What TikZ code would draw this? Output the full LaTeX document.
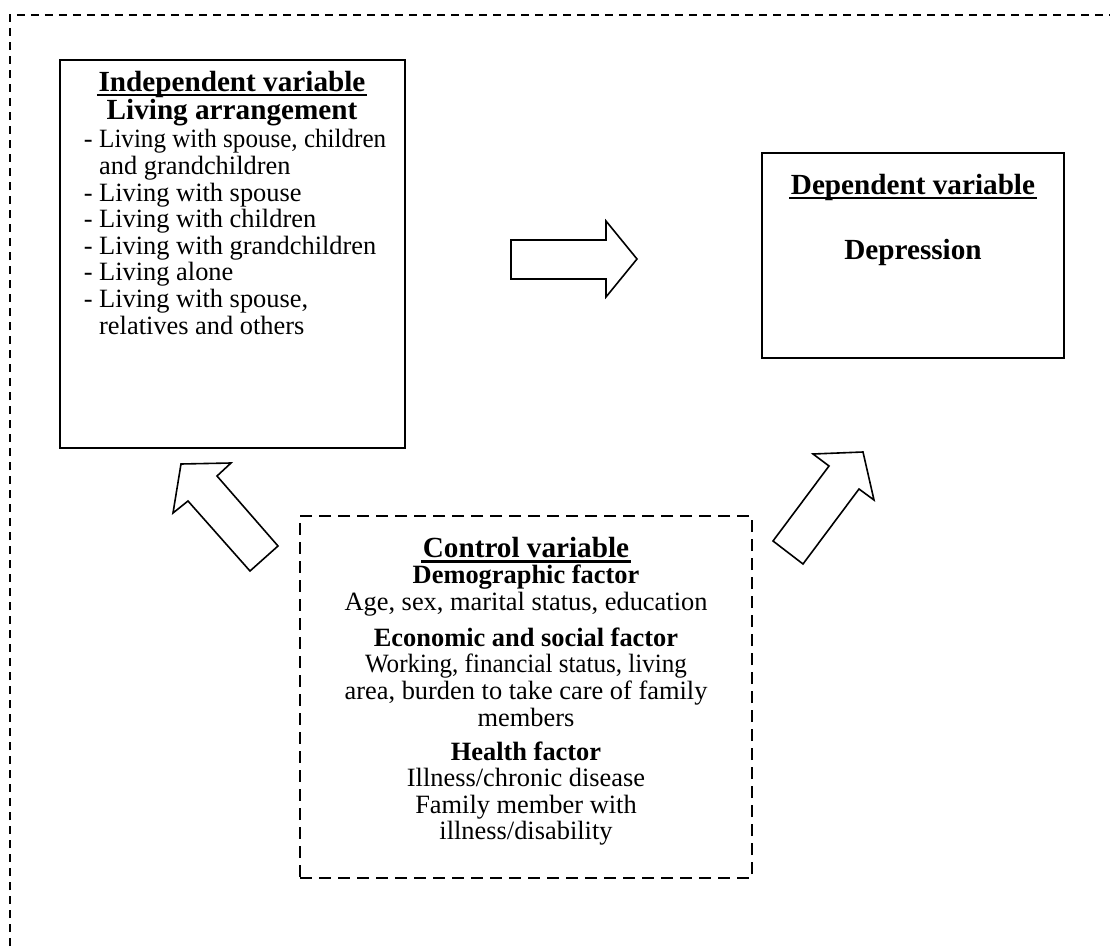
\documentclass[tikz,border=0pt]{standalone}
\usepackage{fontspec}
\setmainfont{Liberation Serif}
\usetikzlibrary{calc}

\begin{document}
\begin{tikzpicture}[x=0.5pt, y=-0.5pt, line width=0.8pt,
  every node/.style={inner sep=0pt, font=\fontsize{13.2}{13.3}\selectfont},
  varbox/.style={draw, shape=rectangle},
  ctrlbox/.style={draw, shape=rectangle, dash pattern=on 6pt off 3.5pt},
  heading/.style={font=\fontsize{14.6}{13}\selectfont\bfseries, align=center},
  uline/.style={line width=1.1pt, shorten <=-0.5pt, shorten >=-0.5pt},
  blockarrow/.style={draw, fill=white, line join=miter}]
\useasboundingbox (0,0) rectangle (1110,947);

% outer frame
\draw[dash pattern=on 4pt off 3pt] (10,960) -- (10,15) -- (1120,15);

% boxes
\node[varbox, minimum width=172.5pt, minimum height=194pt] (indep) at (232.5,254) {};
\node[varbox, minimum width=151pt, minimum height=102.5pt] (dep) at (913,255.5) {};
\node[ctrlbox, minimum width=226pt, minimum height=181pt] (ctrl) at (526,697) {};

% independent variable
\node[heading] (indeptitle) at (232,84) {Independent variable};
\draw[uline] ([yshift=-1.8pt]indeptitle.base west) -- ([yshift=-1.8pt]indeptitle.base east);
\node[heading] (indepname) at (232,113) {Living arrangement};
\node[anchor=west, align=left] (indeplist) at (83,232) {%
- \scalebox{0.95}[1]{Living with spouse, children}\\\phantom{- }and grandchildren\\
- Living with spouse\\
- Living with children\\
- Living with grandchildren\\
- Living alone\\
- Living with spouse,\\\phantom{- }relatives and others};

% dependent variable
\node[heading] (deptitle) at (913,187) {Dependent variable};
\draw[uline] ([yshift=-1.8pt]deptitle.base west) -- ([yshift=-1.8pt]deptitle.base east);
\node[heading] (depname) at (913,252) {Depression};

% control variable
\node[heading] (ctrltitle) at (526,548) {Control variable};
\draw[uline] ([yshift=-1.8pt]ctrltitle.base west) -- ([yshift=-1.8pt]ctrltitle.base east);
\node[align=center] (demog) at (526,590.5) {\textbf{Demographic factor}\\Age, sex, marital status, education};
\node[align=center] (econ) at (526,677) {\textbf{Economic and social factor}\\\scalebox{0.95}[1]{Working, financial status, living}\\area, burden to take care of family\\members};
\node[align=center] (health) at (526,793.5) {\textbf{Health factor}\\Illness/chronic disease\\Family member with\\illness/disability};

% block arrows
\draw[blockarrow] (511,240) -- (606,240) -- (606,221) -- (637,259) -- (606,297) -- (606,279) -- (511,279) -- cycle;
\draw[blockarrow] (181,464) -- (231,463) -- (217,476) -- (278,546) -- (250,571) -- (188,501) -- (173,513) -- cycle;
\draw[blockarrow] (773,541) -- (829,466) -- (813,454) -- (863,452) -- (874,500) -- (859,489) -- (803,564) -- cycle;
\end{tikzpicture}
\end{document}
